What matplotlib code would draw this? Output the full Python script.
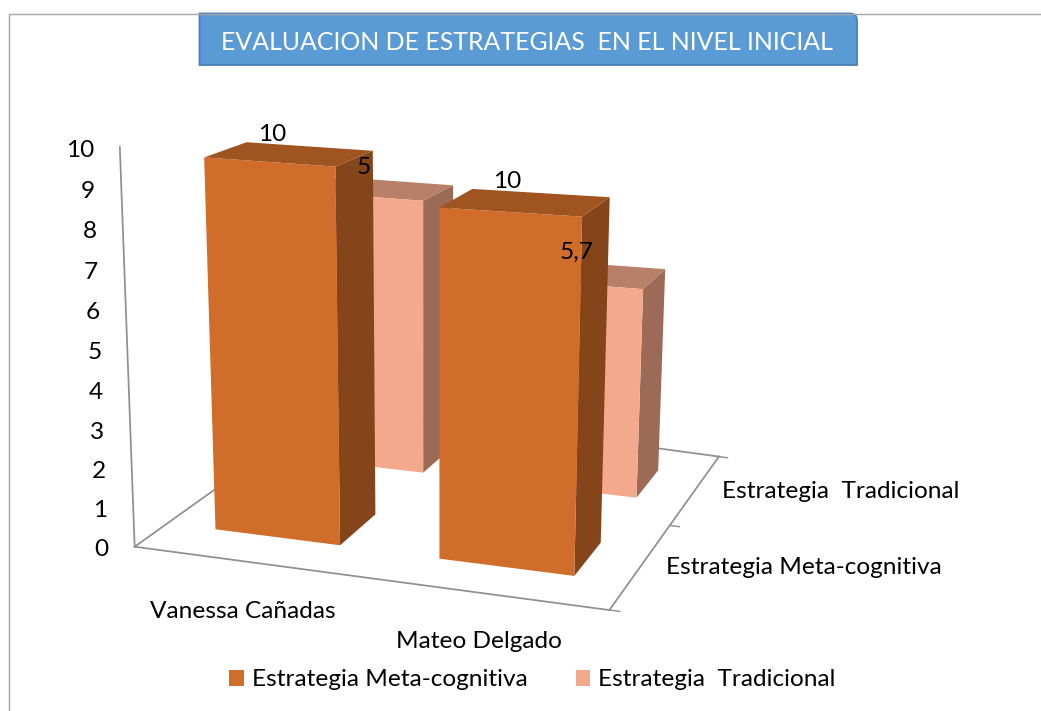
import numpy as np
import matplotlib
matplotlib.use('Agg')
from matplotlib import pyplot as plt
from matplotlib.patches import Patch, PathPatch
from matplotlib.path import Path

plt.rcParams['font.family'] = ['Lato', 'DejaVu Sans']

title = 'EVALUACION DE ESTRATEGIAS  EN EL NIVEL INICIAL'
students = ['Vanessa Cañadas', 'Mateo Delgado']
series_names = ['Estrategia Meta-cognitiva', 'Estrategia  Tradicional']
meta_values = [10, 10]
trad_values = [8.0, 6.5]  # altura dibujada, las etiquetas dicen 5 y 5,7
meta_labels = ['10', '10']
trad_labels = ['5', '5,7']
y_ticks = list(range(0, 11))

FONT = 17.6
BAR_W = 0.56
BAR_D = 0.4
W, H = 1041, 711

# camaras: puntos (x, y, z) del grafico -> pixel de la imagen
# el original no cuadra con una sola perspectiva, asi que suelo y cada columna llevan la suya
FLOOR_PTS = [(0, 0, 0, 135, 547), (2, 0, 0, 608, 610), (2, 2, 0, 718, 457), (2, 1, 0, 672, 525), (0, 2, 0, 334, 404)]
WALL_PTS = [(0, 0, 5, 127, 350), (0, 0, 10, 120, 147)]
COL0_PTS = [
    (.22, .3, 0, 214, 529), (.78, .3, 0, 340, 545), (.78, .7, 0, 376, 514),
    (.22, .3, 10, 204, 158), (.78, .3, 10, 336, 166), (.78, .7, 10, 373, 151), (.22, .7, 10, 246, 143),
    (.78, 1.3, 0, 424, 473), (.78, 1.3, trad_values[0], 423, 200), (.78, 1.7, trad_values[0], 453, 185),
]
COL1_PTS = [
    (1.22, .3, 0, 438, 559), (1.78, .3, 0, 575, 576), (1.78, .7, 0, 602, 543),
    (1.22, .3, 10, 439, 207), (1.78, .3, 10, 582, 217), (1.78, .7, 10, 610, 199), (1.22, .7, 10, 472, 189),
    (1.78, 1.3, 0, 637, 497), (1.78, 1.7, 0, 659, 471),
    (1.78, 1.3, trad_values[1], 643, 287), (1.78, 1.7, trad_values[1], 666, 269),
]


def fit_camera(points):
    rows, rhs = [], []
    for x, y, z, u, v in points:
        rows.append([x, y, z, 1, 0, 0, 0, 0, -u * x, -u * y, -u * z])
        rows.append([0, 0, 0, 0, x, y, z, 1, -v * x, -v * y, -v * z])
        rhs += [u, v]
    p = np.linalg.lstsq(np.array(rows, float), np.array(rhs, float), rcond=None)[0]
    p = np.append(p, 1).reshape(3, 4)
    return np.array([p[0], p[1], [0, 0, 0, -1], p[2]])


def to_pixel(camera, x, y, z):
    v = camera @ np.array([x, y, z, 1.0])
    return v[0] / v[3], v[1] / v[3]


def add_view(camera, zorder):
    view = fig.add_axes([0, 0, 1, 1], projection='3d', zorder=zorder)
    view.set_proj_type('ortho')  # sin esto recorta las lineas
    view.get_proj = lambda: camera
    view.apply_aspect = lambda position=None: None
    view.viewLim.intervalx = (0, W)
    view.viewLim.intervaly = (H, 0)
    view.computed_zorder = False
    view.set_axis_off()
    view.patch.set_visible(False)
    return view


def bar_faces(front, top, side):
    # orden de bar3d: abajo, arriba, delante, detras, izquierda, derecha
    clear = (0, 0, 0, 0)
    return [clear, top, front, clear, clear, side]


fig = plt.figure(figsize=(W / 100, H / 100), dpi=100)

# suelo y pared
floor_camera = fit_camera(FLOOR_PTS + WALL_PTS)
floor = add_view(floor_camera, 1)
GRAY = '#8f8f8f'
for xs, ys, zs in [((0, 2), (0, 0), (0, 0)), ((0, 0), (0, 2), (0, 0)), ((2, 2), (0, 2), (0, 0)),
                   ((0, 2), (2, 2), (0, 0)), ((0, 0), (0, 0), (0, y_ticks[-1]))]:
    floor.plot(xs, ys, zs, color=GRAY, lw=1.25, zorder=1)
for d in [0, 1, 2]:
    floor.plot((2, 2.045), (d, d), (0, 0), color=GRAY, lw=1.0, zorder=1)

META_FACES = bar_faces('#d06d2a', '#a0541f', '#85451b')
TRAD_FACES = bar_faces('#f3a98c', '#b87f69', '#9c6a56')

for i, pts in enumerate([COL0_PTS, COL1_PTS]):
    col = add_view(fit_camera(FLOOR_PTS[:4] + pts), 2 + i)
    col.bar3d(i + 0.5 - BAR_W / 2, 1.5 - BAR_D / 2, 0, BAR_W, BAR_D, trad_values[i],
              color=TRAD_FACES, shade=False, zorder=2, linewidth=0.3)
    col.bar3d(i + 0.5 - BAR_W / 2, 0.5 - BAR_D / 2, 0, BAR_W, BAR_D, meta_values[i],
              color=META_FACES, shade=False, zorder=3, linewidth=0.3)

# capa 2D en pixeles para marco, titulo y textos
over = fig.add_axes([0, 0, 1, 1], zorder=10)
over.set_xlim(0, W)
over.set_ylim(H, 0)
over.axis('off')

over.plot([1041, 9, 9], [14, 14, 711], color='#a6a6a6', lw=1.0)

for t in y_ticks:
    px, py = to_pixel(floor_camera, 0, 0, t)
    over.text(px - 26, py + 3, str(t), ha='right', va='center', fontsize=FONT, color='black')

x0, x1, y0, y1, r = 199.5, 857, 13.5, 65, 7
box = Path([(x0, y1), (x0, y0), (x1 - r, y0), (x1, y0), (x1, y0 + r), (x1, y1), (x0, y1)],
           [Path.MOVETO, Path.LINETO, Path.LINETO, Path.CURVE3, Path.CURVE3, Path.LINETO, Path.CLOSEPOLY])
over.add_patch(PathPatch(box, facecolor='#5b9bd5', edgecolor='#4a7fb3', lw=1.3))
over.text(527, 42.5, title, color='white', fontsize=17.9, ha='center', va='center')

for text, xp, yp in zip(meta_labels + trad_labels, [272, 507, 364, 577], [134.5, 181.5, 167.5, 252.5]):
    over.text(xp, yp, text, ha='center', va='center', fontsize=FONT, color='black')

over.text(243, 612, students[0], ha='center', va='center', fontsize=FONT)
over.text(479, 641, students[1], ha='center', va='center', fontsize=FONT)
over.text(722, 492, series_names[1], ha='left', va='center', fontsize=FONT)
over.text(666, 568, series_names[0], ha='left', va='center', fontsize=FONT)

handles = [Patch(facecolor='#d16d2a', label=series_names[0]), Patch(facecolor='#f2a88a', label=series_names[1])]
fig.legend(handles=handles, loc='center', bbox_to_anchor=(532.5 / W, 1 - 680 / H), ncols=2, frameon=False,
           fontsize=FONT, handlelength=0.61, handleheight=0.61, handletextpad=0.33, columnspacing=1.95,
           borderpad=0, borderaxespad=0)

fig.savefig('out.png', dpi=100)
